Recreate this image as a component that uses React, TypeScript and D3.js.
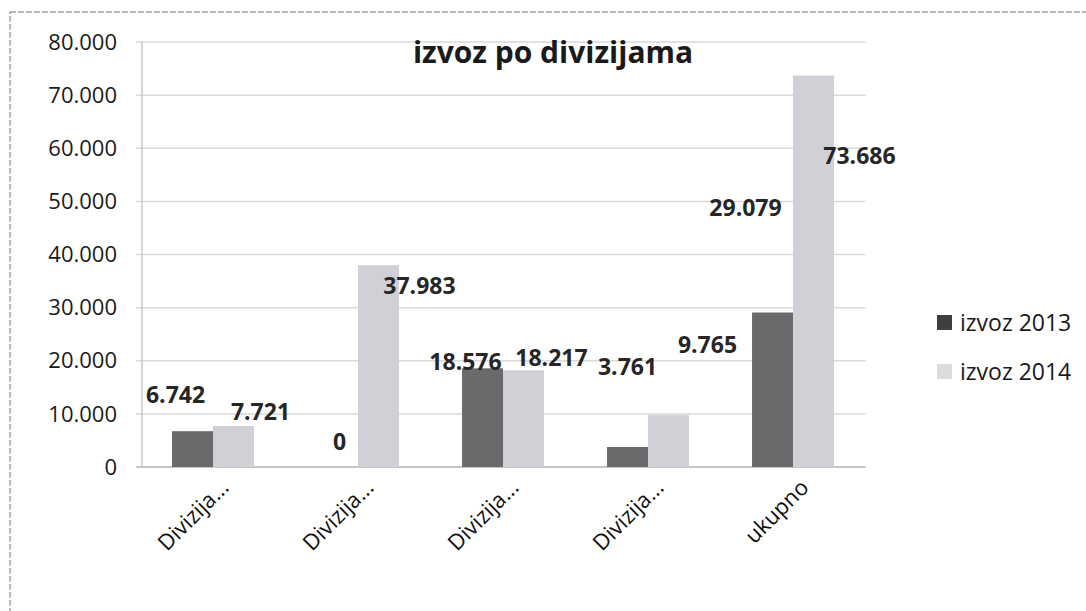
import React from "react";
import * as d3 from "d3";

const categories = ["Divizija...", "Divizija...", "Divizija...", "Divizija...", "ukupno"];
const series = ["izvoz 2013", "izvoz 2014"];
const values2013 = [6742, 0, 18576, 3761, 29079];
const values2014 = [7721, 37983, 18217, 9765, 73686];
const yTicks = [0, 10000, 20000, 30000, 40000, 50000, 60000, 70000, 80000];

// data labels were moved by hand in the original, so keep their nudges apart
const labelNudge2013 = [[-17, -36], [2, -25], [-17, -6], [0, -80], [-27, -105]];
const labelNudge2014 = [[27, -14], [41, 21], [28, -12], [39, -70], [46, 80]];

const colors = ["#6a6a6d", "#d0d0d6"];
const legendColors = ["#3f3f42", "#dcdce0"];
const W = 1086;
const H = 611;
const fmt = (v: number) => d3.format(",")(v).replace(/,/g, ".");

export default function App() {
  const x0 = d3.scaleBand<number>().domain(d3.range(categories.length)).range([140.5, 865.5]);
  const x1 = d3.scaleBand<number>().domain([0, 1]).range([0, x0.bandwidth()]).paddingOuter(0.77);
  const y = d3.scaleLinear().domain([0, 80000]).range([467, 42]);
  const allSeries = [values2013, values2014];
  const nudges = [labelNudge2013, labelNudge2014];
  const font = "'Open Sans', 'Liberation Sans', sans-serif";

  return (
    <svg width={W} height={H} style={{ position: "absolute", left: 0, top: 0, background: "#fff" }}>
      <rect x={10} y={12} width={W} height={H} fill="#fff" stroke="#777" strokeWidth={1} strokeDasharray="6 2" />

      {yTicks.map(t => (
        <g key={t}>
          <line x1={136} x2={865.5} y1={y(t)} y2={y(t)} stroke="#d9d9d9" strokeWidth={1.5} />
          <text x={117} y={y(t)} dy="0.35em" textAnchor="end" fontSize={22} fontFamily={font} fill="#1a1a1a">
            {fmt(t)}
          </text>
        </g>
      ))}
      <line x1={142} x2={142} y1={y(80000)} y2={y(0)} stroke="#c8c8c8" strokeWidth={1.5} />
      <line x1={136} x2={865.5} y1={y(0)} y2={y(0)} stroke="#bdbdbd" strokeWidth={1.5} />

      {allSeries.map((vals, s) =>
        vals.map((v, i) => (
          <rect
            key={`${s}-${i}`}
            x={x0(i)! + x1(s)!}
            y={y(v)}
            width={x1.bandwidth()}
            height={y(0) - y(v)}
            fill={colors[s]}
          />
        ))
      )}

      {allSeries.map((vals, s) =>
        vals.map((v, i) => (
          <text
            key={`l${s}-${i}`}
            x={x0(i)! + x1(s)! + x1.bandwidth() / 2 + nudges[s][i][0]}
            y={y(v) + nudges[s][i][1]}
            dy="0.35em"
            textAnchor="middle"
            fontSize={23}
            fontWeight="bold"
            fontFamily={font}
            fill="#262626"
          >
            {fmt(v)}
          </text>
        ))
      )}

      {categories.map((c, i) => {
        const cx = x0(i)! + x0.bandwidth() / 2 + 17;
        return (
          <text
            key={`c${i}`}
            transform={`translate(${cx},${489}) rotate(-45)`}
            textAnchor="end"
            fontSize={22}
            fontWeight={500}
            fontFamily={font}
            fill="#111"
          >
            {c}
          </text>
        );
      })}

      <text x={553} y={52} dy="0.35em" textAnchor="middle" fontSize={30} fontWeight="bold" fontFamily={font} fill="#1a1a1a">
        izvoz po divizijama
      </text>

      {series.map((s, i) => (
        <g key={s} transform={`translate(937,${323 + i * 49})`}>
          <rect x={0} y={-8} width={15} height={15} fill={legendColors[i]} />
          <text x={23} y={0} dy="0.35em" fontSize={23} fontFamily={font} fill="#1a1a1a">
            {s}
          </text>
        </g>
      ))}
    </svg>
  );
}
